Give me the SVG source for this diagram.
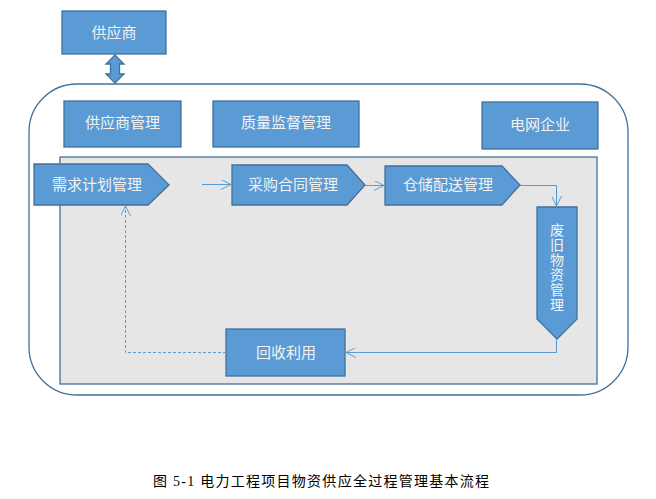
<svg xmlns="http://www.w3.org/2000/svg" width="656" height="499" viewBox="0 0 656 499">
<defs>
<style>
.box{fill:#5B9BD5;stroke:#41719C;stroke-width:1.3}
.lbl{font-family:"Noto Sans CJK SC","Noto Sans",sans-serif;font-size:15px;fill:#F2F2F2;text-anchor:middle;dominant-baseline:central}
.vlbl{font-size:14px;writing-mode:vertical-rl;letter-spacing:1px}
.conn{fill:none;stroke:#5B9BD5;stroke-width:1}
.dash{stroke-dasharray:3,2}
.cap{font-family:"Liberation Serif","Noto Sans CJK SC",serif;font-size:14px;fill:#000}
</style>
<marker id="arr" viewBox="0 0 10 10" refX="10" refY="5" markerWidth="10" markerHeight="10" markerUnits="userSpaceOnUse" orient="auto">
<path d="M0,0 L10,5 L0,10" fill="none" stroke="#5B9BD5" stroke-width="1"/>
</marker>
</defs>
<rect width="656" height="499" fill="#fff"/>
<g id="enterprise-frame">
<rect x="29" y="84" width="599" height="311" rx="48" ry="48" fill="#fff" stroke="#41719C" stroke-width="1.3"/>
</g>
<g id="process-area">
<rect x="60" y="157" width="537" height="227" fill="#E6E6E6" stroke="#41719C" stroke-width="1.3"/>
</g>
<g id="supplier">
<rect class="box" x="62" y="11" width="104" height="43"/>
<text class="lbl" x="114" y="31">供应商</text>
</g>
<g id="double-arrow">
<polygon class="box" points="115,55 124,64 119.5,64 119.5,74 124,74 115,83 106,74 110.5,74 110.5,64 106,64"/>
</g>
<g id="supplier-mgmt">
<rect class="box" x="64" y="101" width="117" height="46"/>
<text class="lbl" x="122.5" y="121">供应商管理</text>
</g>
<g id="quality-mgmt">
<rect class="box" x="213" y="101" width="146" height="46"/>
<text class="lbl" x="286" y="121">质量监督管理</text>
</g>
<g id="grid-company">
<rect class="box" x="482" y="102" width="116" height="47"/>
<text class="lbl" x="540" y="123">电网企业</text>
</g>
<g id="demand-plan">
<polygon class="box" points="34,164 148,164 169,185 148,205 34,205"/>
<text class="lbl" x="97" y="183">需求计划管理</text>
</g>
<g id="procurement">
<polygon class="box" points="232,165 347,165 365,185 347,205 232,205"/>
<text class="lbl" x="293" y="183">采购合同管理</text>
</g>
<g id="warehouse">
<polygon class="box" points="385,166 502,166 520,185 502,205 385,205"/>
<text class="lbl" x="448" y="183">仓储配送管理</text>
</g>
<g id="scrap">
<polygon class="box" points="537,207 577,207 577,319 557,339 537,319"/>
<text class="lbl vlbl" x="557" y="268">废旧物资管理</text>
</g>
<g id="recycle">
<rect class="box" x="226" y="329" width="119" height="47"/>
<text class="lbl" x="286" y="351">回收利用</text>
</g>
<g id="connectors">
<line class="conn" x1="202" y1="184.5" x2="231" y2="184.5" marker-end="url(#arr)"/>
<line class="conn" x1="365" y1="185.5" x2="384" y2="185.5" marker-end="url(#arr)"/>
<polyline class="conn" points="520,185.5 556.5,185.5 556.5,206" marker-end="url(#arr)"/>
<polyline class="conn" points="556.5,339 556.5,352.5 346,352.5" marker-end="url(#arr)"/>
<polyline class="conn dash" points="226,352.5 125.5,352.5 125.5,206" marker-end="url(#arr)"/>
</g>
<text class="cap" x="153" y="486" textLength="336" lengthAdjust="spacing">图 5-1  电力工程项目物资供应全过程管理基本流程</text>
</svg>
